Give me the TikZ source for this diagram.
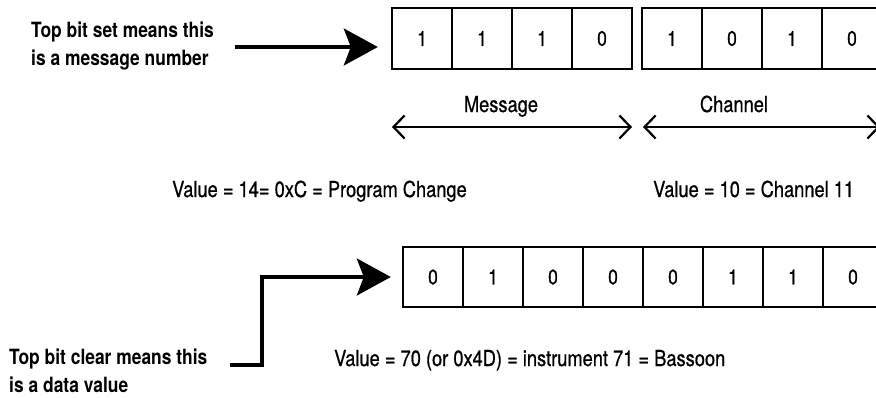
\documentclass[tikz,border=0pt]{standalone}
\usepackage{fontspec}
\setmainfont{TeX Gyre Heros}[FakeStretch=0.83]
\newfontfamily\medfont{TeX Gyre Heros}[FakeStretch=0.83, FakeBold=0.7]
\usetikzlibrary{arrows.meta}
\begin{document}
\begin{tikzpicture}[x=1pt,y=-1pt,
  bit/.style={draw, line width=2.4pt, minimum width=60pt, minimum height=61pt, inner sep=0pt, font=\medfont\fontsize{21}{21}\selectfont},
  lbl/.style={font=\fontsize{21}{27.5}\selectfont\bfseries, align=left, inner sep=0pt},
  txt/.style={font=\medfont\fontsize{22}{24}\selectfont, inner sep=0pt},
  bigarrow/.style={line width=3.2pt, -{Stealth[length=34pt,width=37pt,inset=7pt]}},
  spanarrow/.style={line width=2.2pt, {Straight Barb[length=11pt,width=23pt]}-{Straight Barb[length=11pt,width=23pt]}}
]
\useasboundingbox (0,0) rectangle (876,397);

% top byte
\node[bit] (t1) at (422,38.5) {1};
\node[bit] (t2) at (482,38.5) {1};
\node[bit] (t3) at (542,38.5) {1};
\node[bit] (t4) at (602,38.5) {0};
\node[bit] (t5) at (672,38.5) {1};
\node[bit] (t6) at (732,38.5) {0};
\node[bit] (t7) at (792,38.5) {1};
\node[bit] (t8) at (852,38.5) {0};

% bottom byte
\node[bit, minimum height=60pt] (b1) at (433,277) {0};
\node[bit, minimum height=60pt] (b2) at (493,277) {1};
\node[bit, minimum height=60pt] (b3) at (553,277) {0};
\node[bit, minimum height=60pt] (b4) at (613,277) {0};
\node[bit, minimum height=60pt] (b5) at (673,277) {0};
\node[bit, minimum height=60pt] (b6) at (733,277) {1};
\node[bit, minimum height=60pt] (b7) at (793,277) {1};
\node[bit, minimum height=60pt] (b8) at (853,277) {0};

% left labels
\node[lbl, anchor=north west] (setlbl) at (31,22) {Top bit set means this\\is a message number};
\node[lbl, anchor=north west] (clrlbl) at (9,349) {Top bit clear means this\\is a data value};

% field labels
\node[txt, anchor=base] (msg) at (501,112) {Message};
\node[txt, anchor=base] (chn) at (734,112) {Channel};

% value texts
\node[txt, anchor=base west] (v1) at (172,197) {Value = 14= 0xC = Program Change};
\node[txt, anchor=base west] (v2) at (653,197) {Value = 10 = Channel 11};
\node[txt, anchor=base west] (v3) at (334,366) {Value = 70 (or 0x4D) = instrument 71 = Bassoon};

% arrows
\coordinate (a1) at (235,47);
\draw[bigarrow, shorten >=13pt] (a1) -- (a1 -| t1.west);
\coordinate (a2) at (230,365);
\draw[bigarrow, shorten >=11pt] (a2) -- ++(32,0) |- (b1.west);

\coordinate (mL) at (392,127);
\coordinate (mR) at (632,127);
\coordinate (cL) at (643,127);
\coordinate (cR) at (880,127);
\draw[spanarrow] (mL) -- (mR);
\draw[spanarrow] (cL) -- (cR);
\end{tikzpicture}
\end{document}
